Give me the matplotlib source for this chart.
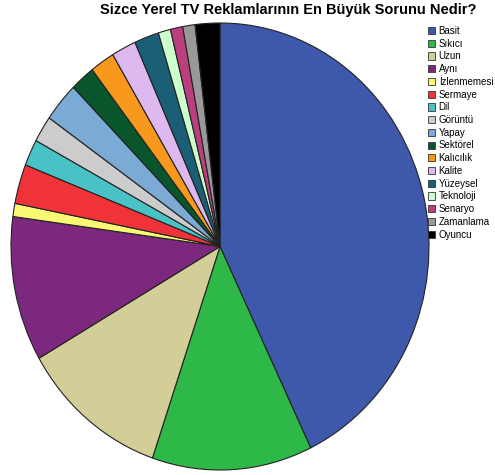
import matplotlib
matplotlib.use("Agg")
import matplotlib.pyplot as plt
from matplotlib.patches import Patch

plt.rcParams["font.family"] = ["Liberation Sans", "DejaVu Sans"]

labels = ["Basit", "Sıkıcı", "Uzun", "Aynı", "İzlenmemesi", "Sermaye", "Dil", "Görüntü",
          "Yapay", "Sektörel", "Kalıcılık", "Kalite", "Yüzeysel", "Teknoloji", "Senaryo",
          "Zamanlama", "Oyuncu"]
counts = [45, 13, 12, 11, 1, 3, 2, 2, 3, 2, 2, 2, 2, 1, 1, 1, 2]
colors = ["#3e58ac", "#2eb848", "#d3ce97", "#7c287e", "#fbf873", "#ef3338", "#48c2c5",
          "#cccccc", "#7aaad5", "#0a562c", "#f8981d", "#ddb9ef", "#1a5f76", "#ccffcc",
          "#bb3f7f", "#999999", "#000000"]

W, H = 495, 475
fig = plt.figure(figsize=(W / 100, H / 100), dpi=100)

# pie is slightly taller than wide in the original
ax = fig.add_axes([11 / W, (H - 470) / H, 418 / W, 447 / H])
ax.pie(counts, colors=colors, startangle=90, counterclock=False, radius=1,
       wedgeprops=dict(edgecolor="#222222", linewidth=0.8))
ax.set_aspect("auto")
ax.set_xlim(-1, 1)
ax.set_ylim(-1, 1)
ax.axis("off")

fig.text(288 / W, 1 - 10 / H, "Sizce Yerel TV Reklamlarının En Büyük Sorunu Nedir?",
         ha="center", va="center", fontsize=10.5, fontweight="bold")

handles = [Patch(facecolor=c, edgecolor="#333333", linewidth=0.6) for c in colors]
fig.legend(handles, labels, loc="upper left", bbox_to_anchor=(428 / W, 1 - 26 / H),
           frameon=False, fontsize=7, handlelength=0.75, handleheight=0.75,
           handletextpad=0.35, labelspacing=0.28, borderpad=0, borderaxespad=0)

fig.savefig("out.png", dpi=100)
